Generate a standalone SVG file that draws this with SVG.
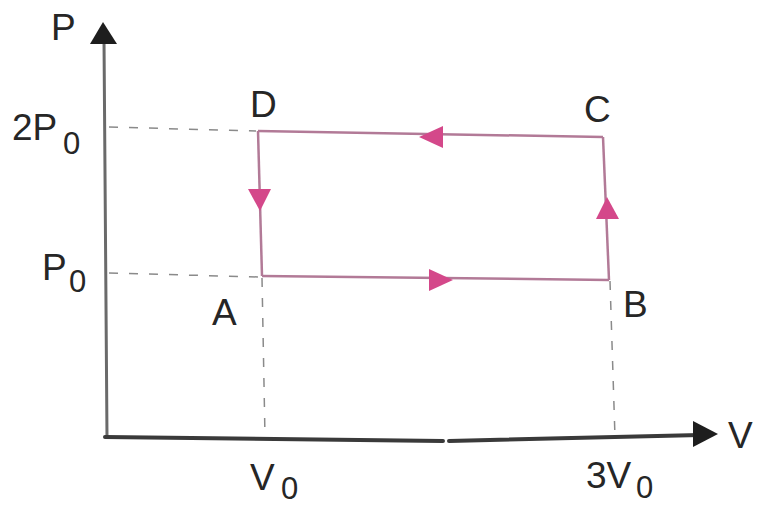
<svg xmlns="http://www.w3.org/2000/svg" width="759" height="508" viewBox="0 0 759 508">
<style>
.lbl{font-family:"Liberation Sans",Arial,sans-serif;font-size:37px;fill:#262626}
.sub{font-size:31px}
.axis{stroke:#3a3a3a;fill:none;stroke-linecap:round}
.dash{stroke:#8a8a8a;stroke-width:1.5;stroke-dasharray:9 11;fill:none}
.side{stroke:#b27a97;stroke-width:2.5;fill:none}
.head{fill:#d4488a}
.axhead{fill:#1e1e1e}
</style>
<rect width="759" height="508" fill="#ffffff"/>
<g id="axes">
  <line class="axis" x1="107" y1="437" x2="104" y2="40" stroke-width="3" style="stroke:#6a6a6a"/>
  <polygon class="axhead" points="103,22 90,44 117,44"/>
  <polyline class="axis" points="105,437 443,441" stroke-width="4"/>
  <polyline class="axis" points="449,441 700,435" stroke-width="4"/>
  <polygon class="axhead" points="718,434 693,421 693,447"/>
  <text class="lbl" x="51" y="40">P</text>
  <text class="lbl" x="728" y="448">V</text>
  <text class="lbl" x="12" y="140">2P<tspan class="sub" x="63" y="154">0</tspan></text>
  <text class="lbl" x="42" y="280">P<tspan class="sub" x="69" y="292">0</tspan></text>
  <text class="lbl" x="250" y="490">V<tspan class="sub" x="281" y="499">0</tspan></text>
  <text class="lbl" x="586" y="488">3V<tspan class="sub" x="636" y="498">0</tspan></text>
</g>
<g id="guides">
  <line class="dash" x1="109" y1="127" x2="256" y2="131"/>
  <line class="dash" x1="109" y1="273" x2="259" y2="277"/>
  <line class="dash" x1="262" y1="278" x2="265" y2="437"/>
  <line class="dash" x1="610" y1="281" x2="615" y2="437"/>
</g>
<g id="connectors">
  <line class="side" x1="258" y1="131" x2="262" y2="276"/>
  <line class="side" x1="262" y1="276" x2="609" y2="280"/>
  <line class="side" x1="609" y1="280" x2="603" y2="137"/>
  <line class="side" x1="603" y1="137" x2="258" y2="131"/>
  <polygon class="head" points="260,211 248,189 271,189"/>
  <polygon class="head" points="453,280 429,269 429,291"/>
  <polygon class="head" points="607,197 596,219 619,219"/>
  <polygon class="head" points="419,137 443,126 443,148"/>
</g>
<g id="node-D"><text class="lbl" x="250" y="117">D</text></g>
<g id="node-C"><text class="lbl" x="584" y="122">C</text></g>
<g id="node-B"><text class="lbl" x="623" y="317">B</text></g>
<g id="node-A"><text class="lbl" x="212" y="325">A</text></g>
</svg>
